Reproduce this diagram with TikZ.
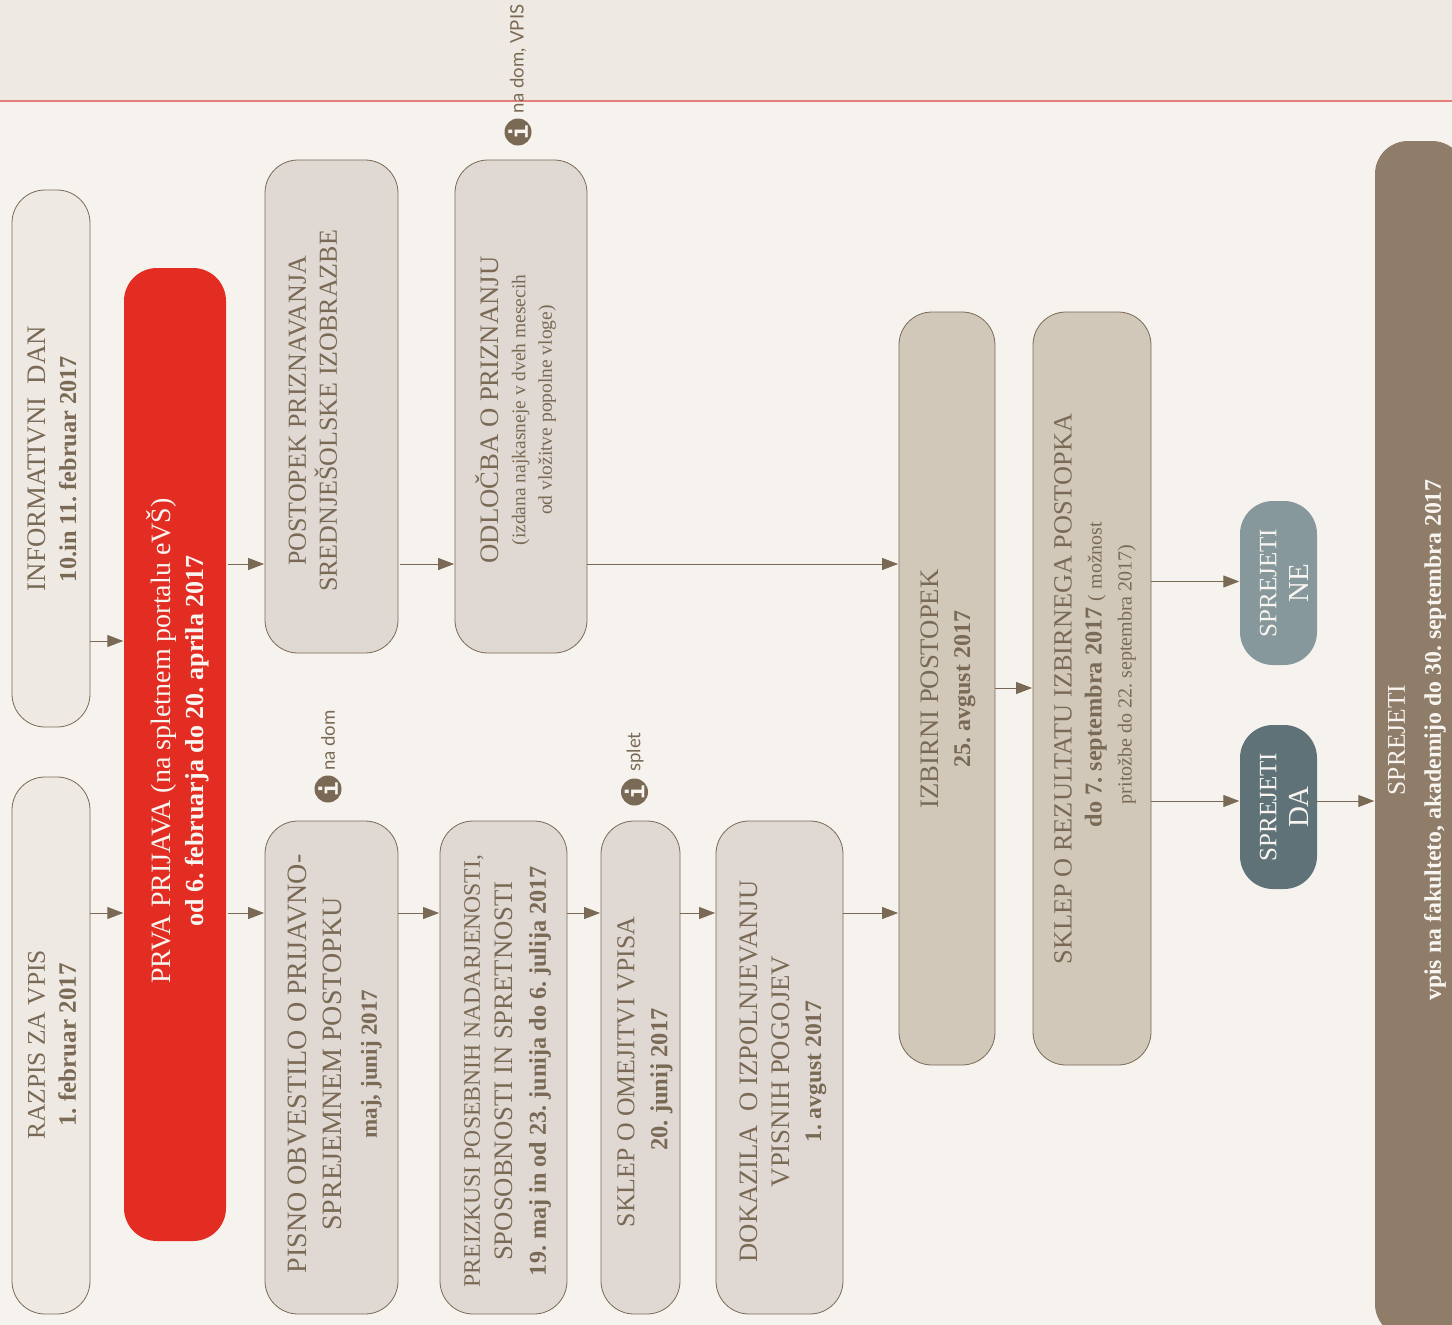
\documentclass[tikz,border=0pt]{standalone}
\usepackage{fontspec}
\setmainfont{Liberation Serif}
\newfontfamily\labelfont{Lato}
\newfontfamily\iconfont{DejaVu Sans Mono}
\usetikzlibrary{arrows.meta}
\AtBeginDocument{\frenchspacing}
\definecolor{bgpage}{HTML}{F6F3EE}
\definecolor{bgband}{HTML}{EEE9E2}
\definecolor{redline}{HTML}{E27F78}
\definecolor{brown}{HTML}{7A6A55}
\definecolor{fillA}{HTML}{EEE9E2}
\definecolor{fillB}{HTML}{E0D9D3}
\definecolor{fillC}{HTML}{D1C8BA}
\definecolor{fillD}{HTML}{8F7D6A}
\definecolor{fillNe}{HTML}{87989C}
\definecolor{fillDa}{HTML}{5E7278}
\definecolor{fillRed}{HTML}{E32D23}
\definecolor{fgwhite}{HTML}{F8F5F0}
\newcommand\sz[2]{{\fontsize{#1}{#1}\selectfont #2}}
\newcommand\bsz[2]{{\fontsize{#1}{#1}\selectfont\bfseries #2}}
\tikzset{
  basebox/.style={rectangle,rotate=90,inner sep=0pt,rounded corners=33pt},
  boxA/.style={basebox,draw=brown,line width=0.8pt,fill=fillA},
  boxB/.style={basebox,draw=brown,line width=0.8pt,fill=fillB},
  boxC/.style={basebox,draw=brown,line width=0.8pt,fill=fillC},
  boxRed/.style={basebox,fill=fillRed},
  boxDark/.style={basebox,fill=fillD},
  boxNe/.style={basebox,fill=fillNe},
  boxDa/.style={basebox,fill=fillDa},
  txtdark/.style={rotate=90,align=center,inner sep=0pt,text=brown},
  txtlight/.style={rotate=90,align=center,inner sep=0pt,text=fgwhite},
  lead/.style={font=\fontsize{25}{#1}\selectfont},
  conn/.style={draw=brown,line width=1pt,-{Triangle[length=16pt,width=12pt]},shorten >=0.5pt},
  infodot/.style={circle,fill=brown,minimum size=27pt,inner sep=0pt,text=fgwhite,rotate=90,font=\iconfont\bfseries\fontsize{24}{24}\selectfont},
  infotext/.style={rotate=90,anchor=west,inner sep=0pt,text=brown,font=\labelfont\fontsize{18.6}{22}\selectfont},
}
\begin{document}
\begin{tikzpicture}[x=1pt,y=-1pt]
\clip (0,0) rectangle (1452,1325);
\fill[bgpage] (0,0) rectangle (1452,1325);
\fill[bgband] (0,0) rectangle (1452,101);
\draw[redline,line width=1.2pt] (0,101) -- (1452,101);

% boxes
\node[boxA,minimum width=537pt,minimum height=78pt] (razpis) at (51,1045.5) {};
\node[boxA,minimum width=537pt,minimum height=78pt] (info) at (51,458.5) {};
\node[boxRed,minimum width=973pt,minimum height=102pt] (prva) at (175,754.5) {};
\node[boxB,minimum width=493pt,minimum height=133pt] (postopek) at (331.5,406.5) {};
\node[boxB,minimum width=493pt,minimum height=132pt] (odlocba) at (521,406.5) {};
\node[boxB,minimum width=493pt,minimum height=133pt] (pisno) at (331.5,1067.5) {};
\node[boxB,minimum width=493pt,minimum height=127pt] (preizkusi) at (503.5,1067.5) {};
\node[boxB,minimum width=493pt,minimum height=79pt] (omejitev) at (640.5,1067.5) {};
\node[boxB,minimum width=493pt,minimum height=127pt] (dokazila) at (779.5,1067.5) {};
\node[boxC,minimum width=753pt,minimum height=96pt] (izbirni) at (947,688.5) {};
\node[boxC,minimum width=753pt,minimum height=118pt] (rezultat) at (1092,688.5) {};
\node[boxNe,minimum width=164pt,minimum height=77pt] (ne) at (1278.5,583) {};
\node[boxDa,minimum width=164pt,minimum height=77pt] (da) at (1278.5,807) {};
\node[boxDark,minimum width=1196pt,minimum height=90pt] (sprejeti) at (1420,739) {};

% box texts
\node[txtdark,lead=31] (razpisT) at (52,1045) {\sz{25.5}{RAZPIS ZA VPIS}\\\bsz{25}{1. februar 2017}};
\node[txtdark,lead=31] (infoT) at (52,458.5) {\sz{26.8}{INFORMATIVNI\ \ DAN}\\\bsz{24.3}{10.in 11. februar 2017}\hspace*{21pt}};
\node[txtlight,lead=33] (prvaT) at (178,741) {\sz{28}{PRVA PRIJAVA (na spletnem portalu eVŠ)}\\\bsz{26}{od 6. februarja do 20. aprila 2017}};
\node[txtdark,lead=31] (postopekT) at (313,411) {\sz{26}{POSTOPEK PRIZNAVANJA}\\\sz{26}{SREDNJEŠOLSKE IZOBRAZBE}};
\node[txtdark,lead=26.5] (odlocbaT) at (516,410) {\sz{26.7}{ODLOČBA O PRIZNANJU}\\\sz{19.5}{(izdana najkasneje v dveh mesecih}\\\sz{19.5}{od vložitve popolne vloge)}};
\node[txtdark,lead=35] (pisnoT) at (335,1064) {\sz{28}{PISNO OBVESTILO O PRIJAVNO-}\\\sz{28}{SPREJEMNEM POSTOPKU}\\\bsz{23}{maj, junij 2017}};
\node[txtdark,lead=33] (preizkusiT) at (507.5,1071) {\sz{23.7}{PREIZKUSI POSEBNIH NADARJENOSTI,}\\\sz{26.7}{SPOSOBNOSTI IN SPRETNOSTI}\\\bsz{24.2}{19. maj in od 23. junija do 6. julija 2017}};
\node[txtdark,lead=33] (omejitevT) at (645,1072) {\sz{25.8}{SKLEP O OMEJITVI VPISA}\\\bsz{24.5}{20. junij 2017}\hspace*{15pt}};
\node[txtdark,lead=32] (dokazilaT) at (783,1071.5) {\sz{26.6}{DOKAZILA\ \ O IZPOLNJEVANJU}\\\sz{26.8}{VPISNIH POGOJEV}\\\bsz{23.6}{1. avgust 2017}};
\node[txtdark,lead=32] (izbirniT) at (948,689) {\sz{26.7}{IZBIRNI POSTOPEK}\\\bsz{24}{25. avgust 2017}};
\node[txtdark,lead=30] (rezultatT) at (1095,689) {\sz{26.3}{SKLEP O REZULTATU IZBIRNEGA POSTOPKA}\\\hspace*{29pt}\bsz{24.3}{do 7. septembra 2017} \sz{20}{( možnost}\\\hspace*{29pt}\sz{20}{pritožbe do 22. septembra 2017)}};
\node[txtlight,lead=32] (neT) at (1284,583) {\sz{25}{SPREJETI}\\\sz{29}{NE}};
\node[txtlight,lead=32] (daT) at (1284,807) {\sz{25}{SPREJETI}\\\sz{29}{DA}};
\node[txtlight,lead=36] (sprejetiT) at (1417,740) {\sz{25.5}{SPREJETI}\\\bsz{23.8}{vpis na fakulteto, akademijo do 30. septembra 2017}};

% info icons
\node[infodot] (iconA) at (328,789) {i};
\node[infodot] (iconB) at (634.5,792) {i};
\node[infodot] (iconC) at (518,132) {i};
\node[infotext] (labelA) at (328,771) {na dom};
\node[infotext] (labelB) at (635,772) {splet};
\node[infotext] (labelC) at (518,113.5) {na dom, VPIS};

% connector rows
\coordinate (rowA) at (0,913);
\coordinate (rowB) at (0,641);
\coordinate (rowC) at (0,564);
\coordinate (rowD) at (0,688);
\coordinate (rowE) at (0,581.5);
\coordinate (rowF) at (0,801);

\draw[conn] (razpis.south |- rowA) -- (prva.north |- rowA);
\draw[conn] (info.south |- rowB) -- (prva.north |- rowB);
\draw[conn] ([xshift=2pt]prva.south |- rowA) -- (pisno.north |- rowA);
\draw[conn] ([xshift=2pt]prva.south |- rowC) -- (postopek.north |- rowC);
\draw[conn] (pisno.south |- rowA) -- (preizkusi.north |- rowA);
\draw[conn] (preizkusi.south |- rowA) -- (omejitev.north |- rowA);
\draw[conn] (omejitev.south |- rowA) -- (dokazila.north |- rowA);
\draw[conn] (dokazila.south |- rowA) -- (izbirni.north |- rowA);
\draw[conn] ([xshift=2pt]postopek.south |- rowC) -- (odlocba.north |- rowC);
\draw[conn] (odlocba.south |- rowC) -- (izbirni.north |- rowC);
\draw[conn] (izbirni.south |- rowD) -- (rezultat.north |- rowD);
\draw[conn] (rezultat.south |- rowE) -- (ne.north |- rowE);
\draw[conn] (rezultat.south |- rowF) -- (da.north |- rowF);
\draw[conn] (da.south |- rowF) -- (sprejeti.north |- rowF);
\end{tikzpicture}
\end{document}
